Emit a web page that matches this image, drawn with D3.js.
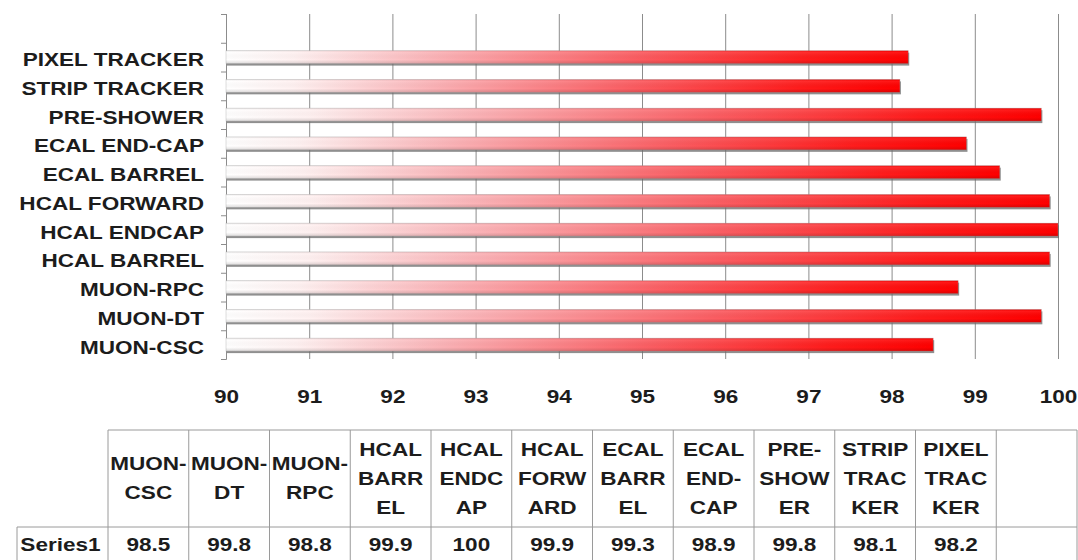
<!DOCTYPE html>
<html>
<head>
<meta charset="utf-8">
<script src="https://cdn.jsdelivr.net/npm/d3@7"></script>
<style>
  body { margin: 0; background: #fff; }
  text { font-family: "Liberation Sans", Arial, sans-serif; font-weight: bold; fill: #1c1c1c; }
</style>
</head>
<body>
<svg id="chart" width="1078" height="560"></svg>
<script>
// Detector availability per subsystem (percent); the last slot is an empty category
const categories = ["MUON-CSC", "MUON-DT", "MUON-RPC", "HCAL BARREL", "HCAL ENDCAP", "HCAL FORWARD",
                    "ECAL BARREL", "ECAL END-CAP", "PRE-SHOWER", "STRIP TRACKER", "PIXEL TRACKER", ""];
const seriesName = "Series1";
const values = [98.5, 99.8, 98.8, 99.9, 100, 99.9, 99.3, 98.9, 99.8, 98.1, 98.2, null];
const xTicks = [90, 91, 92, 93, 94, 95, 96, 97, 98, 99, 100];
const xDomain = [90, 100];

const W = 1078, H = 560;
const plot = { left: 226, right: 1058, top: 14, bottom: 359 };
const table = { left: 108, right: 1077, top: 430, mid: 527, bottom: 570, labelLeft: 17 };
const FS = 18.5, SX = 1.22;        // font size and horizontal text stretch
const lineColor = "#9a9a9a";

const svg = d3.select("#chart");
svg.append("rect").attr("width", W).attr("height", H).attr("fill", "#fff");

const x = d3.scaleLinear().domain(xDomain).range([plot.left, plot.right]);
const y = d3.scaleBand().domain(categories).range([plot.bottom, plot.top])
  .paddingInner(0.55).paddingOuter(0.275);

// defs: bar gradients and shadow blur
const defs = svg.append("defs");
const grad = defs.append("linearGradient").attr("id", "barFill")
  .attr("x1", "0").attr("y1", "0").attr("x2", "1").attr("y2", "0");
[[0, "#ffffff"], [0.1, "#fff1f1"], [0.3, "#fbb4b8"], [0.6, "#fb5d62"], [0.85, "#ff1c1c"], [1, "#ff0000"]]
  .forEach(([o, c]) => grad.append("stop").attr("offset", o).attr("stop-color", c));
const shade = defs.append("linearGradient").attr("id", "barShade")
  .attr("x1", "0").attr("y1", "0").attr("x2", "0").attr("y2", "1");
[[0, "#000", 0.06], [0.15, "#fff", 0.08], [0.7, "#000", 0], [1, "#000", 0.14]]
  .forEach(([o, c, a]) => shade.append("stop").attr("offset", o).attr("stop-color", c).attr("stop-opacity", a));
defs.append("filter").attr("id", "soft").append("feGaussianBlur").attr("stdDeviation", 0.7);

// vertical gridlines with value labels below
const gx = svg.append("g").attr("transform", `translate(0,${plot.bottom})`)
  .call(d3.axisBottom(x).tickValues(xTicks).tickFormat(d3.format("d"))
    .tickSize(-(plot.bottom - plot.top)).tickPadding(31));
gx.select(".domain").remove();
gx.selectAll(".tick line").attr("stroke", "#8c8c8c");
gx.selectAll(".tick text").attr("font-size", FS).attr("fill", "#1c1c1c")
  .attr("transform", `scale(${SX},1)`);

// category axis: line with ticks at band boundaries
const edge = d3.scaleLinear().domain([0, categories.length]).range([plot.bottom, plot.top]);
const gy = svg.append("g").attr("transform", `translate(${plot.left},0)`)
  .call(d3.axisLeft(edge).ticks(categories.length).tickFormat("").tickSize(5).tickSizeOuter(5));
gy.selectAll("path, line").attr("stroke", "#8c8c8c");

// bars
const rows = categories.map((c, i) => ({ cat: c, v: values[i] })).filter(d => d.v != null);
const bars = svg.append("g");
bars.selectAll(".shadow").data(rows).join("rect")
  .attr("x", x(xDomain[0]) + 1).attr("y", d => y(d.cat) + 2)
  .attr("width", d => x(d.v) - x(xDomain[0])).attr("height", y.bandwidth())
  .attr("fill", "#6a6a6a").attr("opacity", 0.75).attr("filter", "url(#soft)");
bars.selectAll(".bar").data(rows).join("rect")
  .attr("x", x(xDomain[0])).attr("y", d => y(d.cat))
  .attr("width", d => x(d.v) - x(xDomain[0])).attr("height", y.bandwidth())
  .attr("fill", "url(#barFill)").attr("stroke", "rgba(150,150,150,0.45)").attr("stroke-width", 0.7);
bars.selectAll(".shade").data(rows).join("rect")
  .attr("x", x(xDomain[0])).attr("y", d => y(d.cat))
  .attr("width", d => x(d.v) - x(xDomain[0])).attr("height", y.bandwidth())
  .attr("fill", "url(#barShade)");

// category labels
svg.append("g").selectAll("text").data(categories.filter(c => c !== "")).join("text")
  .attr("transform", d => `translate(${plot.left - 22},${y(d) + y.bandwidth() / 2 + 2.5}) scale(${SX},1)`)
  .attr("text-anchor", "end").attr("dy", "0.35em").attr("font-size", FS).text(d => d);

// data table
const col = d3.scaleBand().domain(categories).range([table.left, table.right]);
const tg = svg.append("g");
tg.append("line").attr("x1", table.left).attr("x2", table.right).attr("y1", table.top).attr("y2", table.top);
tg.append("line").attr("x1", table.labelLeft).attr("x2", table.right).attr("y1", table.mid).attr("y2", table.mid);
const colEdges = categories.map(c => col(c)).concat([col(categories[categories.length - 1]) + col.bandwidth()]);
tg.selectAll(".v").data(colEdges).join("line")
  .attr("x1", d => d).attr("x2", d => d).attr("y1", table.top).attr("y2", table.bottom);
tg.append("line").attr("x1", table.labelLeft).attr("x2", table.labelLeft).attr("y1", table.mid).attr("y2", table.bottom);
tg.selectAll("line").attr("stroke", lineColor).attr("stroke-width", 1);

// word/character wrapping of header names to the column width
const measurer = svg.append("text").attr("font-size", FS).attr("visibility", "hidden");
const widthOf = s => { measurer.text(s); return measurer.node().getComputedTextLength() * SX; };
const maxW = 78;
function wrap(name) {
  const tokens = [];
  name.split(" ").forEach((w, wi) => {
    const parts = w.split(/(?<=-)/);
    parts.forEach((p, pi) => tokens.push({ t: p, sep: (pi === 0 && wi > 0) ? " " : "" }));
  });
  const lines = [];
  let cur = "";
  tokens.forEach(tok => {
    const cand = cur === "" ? tok.t : cur + tok.sep + tok.t;
    if (widthOf(cand) <= maxW) { cur = cand; return; }
    if (cur !== "") lines.push(cur);
    cur = "";
    for (const ch of tok.t) {
      if (cur !== "" && widthOf(cur + ch) > maxW) { lines.push(cur); cur = ch; }
      else cur += ch;
    }
  });
  if (cur !== "") lines.push(cur);
  return lines;
}

const headCenter = (table.top + table.mid) / 2, lineGap = 29;
categories.forEach(c => {
  if (!c) return;
  const lines = wrap(c);
  const cx = col(c) + col.bandwidth() / 2;
  lines.forEach((ln, i) => {
    tg.append("text")
      .attr("transform", `translate(${cx},${headCenter + (i - (lines.length - 1) / 2) * lineGap}) scale(${SX},1)`)
      .attr("text-anchor", "middle").attr("dy", "0.35em").attr("font-size", FS).text(ln);
  });
});
measurer.remove();

const valRowY = 545;
tg.append("text")
  .attr("transform", `translate(${(table.labelLeft + table.left) / 2 - 2},${valRowY}) scale(${SX},1)`)
  .attr("text-anchor", "middle").attr("dy", "0.35em").attr("font-size", FS).text(seriesName);
categories.forEach((c, i) => {
  if (values[i] == null) return;
  tg.append("text")
    .attr("transform", `translate(${col(c) + col.bandwidth() / 2},${valRowY}) scale(${SX},1)`)
    .attr("text-anchor", "middle").attr("dy", "0.35em").attr("font-size", FS).text(values[i]);
});
</script>
</body>
</html>
